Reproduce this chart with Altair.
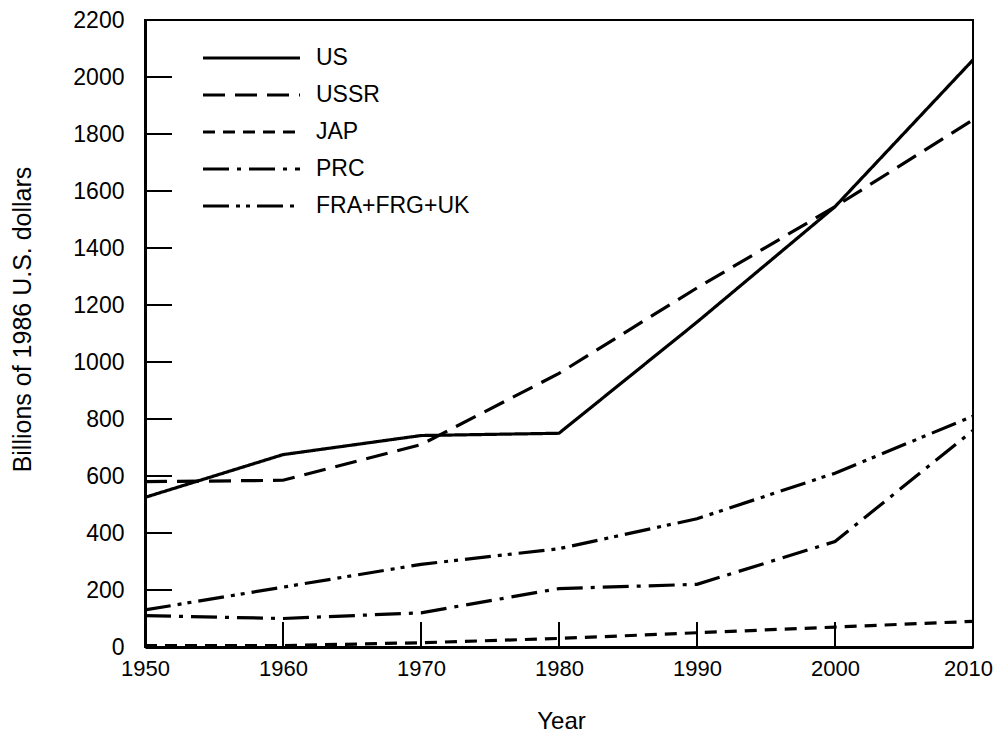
import altair as alt
import pandas as pd

YEARS = [1950, 1960, 1970, 1980, 1990, 2000, 2010]
SERIES = ["US", "USSR", "JAP", "PRC", "FRA+FRG+UK"]
US = [525, 675, 742, 750, 1140, 1545, 2060]
USSR = [580, 585, 710, 960, 1260, 1545, 1850]
JAP = [5, 5, 15, 30, 50, 70, 90]
PRC = [110, 100, 120, 205, 220, 370, 760]
EUR = [130, 210, 290, 345, 450, 610, 810]
DASHES = [[1, 0], [22, 10], [12, 8], [26, 8, 4, 8], [26, 7, 4, 6, 4, 7]]
X_TICKS = [1960, 1970, 1980, 1990, 2000]
Y_TICKS = [200, 400, 600, 800, 1000, 1200, 1400, 1600, 1800, 2000]

rows = []
for name, vals in zip(SERIES, [US, USSR, JAP, PRC, EUR]):
    for yr, v in zip(YEARS, vals):
        rows.append({"year": yr, "value": v, "series": name})
df = pd.DataFrame(rows)

FONT = "Liberation Sans"
FS = 23
W, H = 828, 627

xscale = alt.Scale(domain=[1950, 2010], nice=False)
yscale = alt.Scale(domain=[0, 2200], nice=False)

lines = alt.Chart(df).mark_line(color="black", strokeWidth=3.2).encode(
    x=alt.X("year:Q", scale=xscale,
            axis=alt.Axis(title="Year", values=YEARS, format="d", ticks=False,
                          labelFontSize=22, labelPadding=11, labelFont=FONT, labelFlush=False,
                          labelOffset=alt.condition("datum.value == 2010", alt.value(-5), alt.value(0)),
                          labelColor="black", domainColor="black", domainWidth=3,
                          grid=False, titleFont=FONT, titleFontSize=24,
                          titleFontWeight="normal", titleColor="black",
                          titleX=W / 2 + 2, titleY=74, titleBaseline="middle")),
    y=alt.Y("value:Q", scale=yscale,
            axis=alt.Axis(title="Billions of 1986 U.S. dollars", values=[0] + Y_TICKS + [2200],
                          format="d", ticks=False, labelFontSize=FS, labelPadding=21,
                          labelFont=FONT, labelFlush=False,
                          labelColor="black", domainColor="black", domainWidth=3,
                          grid=False, titleFont=FONT, titleFontSize=25,
                          titleFontWeight="normal", titleColor="black",
                          titleX=-123, titleY=299, titleBaseline="middle",
                          titleAlign="center", titleAngle=270)),
    strokeDash=alt.StrokeDash("series:N", sort=SERIES,
                              scale=alt.Scale(domain=SERIES, range=DASHES),
                              legend=alt.Legend(title=None, orient="none", legendX=56, legendY=26,
                                                symbolType="stroke", symbolSize=9400,
                                                symbolStrokeWidth=3.2, symbolStrokeColor="black",
                                                clipHeight=24, rowPadding=13,
                                                labelFontSize=FS, labelFont=FONT,
                                                labelColor="black", labelOffset=14)),
    detail="series:N",
)

ytick_df = pd.DataFrame({"v": Y_TICKS})
xtick_df = pd.DataFrame({"v": X_TICKS})

yticks = alt.Chart(ytick_df).mark_rule(color="black", strokeWidth=2).encode(
    y=alt.Y("v:Q", scale=yscale), x=alt.value(0), x2=alt.value(27))
xticks = alt.Chart(xtick_df).mark_rule(color="black", strokeWidth=2).encode(
    x=alt.X("v:Q", scale=xscale), y=alt.value(H), y2=alt.value(H - 25))

chart = alt.layer(lines, yticks, xticks).properties(
    width=W, height=H,
    autosize=alt.AutoSizeParams(type="none"),
    padding={"left": 137, "top": 12, "right": 20, "bottom": 87},
).configure_view(stroke="black", strokeWidth=2)

chart.save("out.html", embed_options={"renderer": "svg", "actions": False})
